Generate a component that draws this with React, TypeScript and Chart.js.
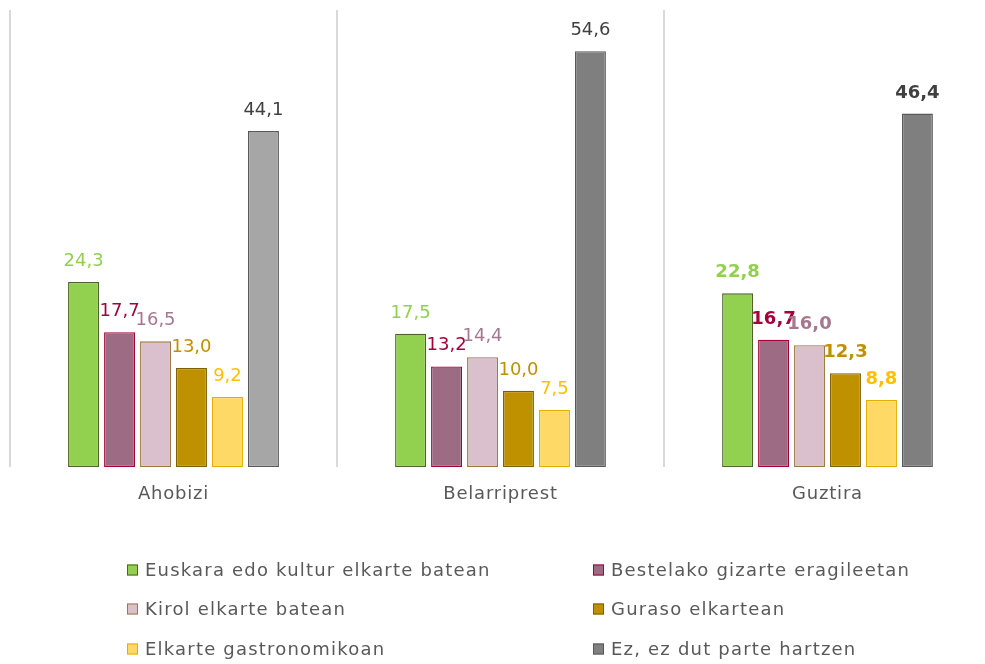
import React, { useEffect, useRef } from "react";
import { Chart, registerables } from "chart.js";

Chart.register(...registerables);

const categories = ["Ahobizi", "Belarriprest", "Guztira"];
const seriesNames = [
  "Euskara edo kultur elkarte batean",
  "Bestelako gizarte eragileetan",
  "Kirol elkarte batean",
  "Guraso elkartean",
  "Elkarte gastronomikoan",
  "Ez, ez dut parte hartzen",
];
const euskara = [24.3, 17.5, 22.8];
const bestelako = [17.7, 13.2, 16.7];
const kirol = [16.5, 14.4, 16.0];
const guraso = [13.0, 10.0, 12.3];
const gastro = [9.2, 7.5, 8.8];
const ez = [44.1, 54.6, 46.4];
const boldCategory = [false, false, true];

const fills = ["#92d050", "#9e6b84", "#d9c0cc", "#bf9000", "#ffd966", "#808080"];
const lastFills = ["#a6a6a6", "#7f7f7f", "#7f7f7f"];
const borders = ["#4f6228", "#a50034", "#9c7a3c", "#7f6000", "#e6ac00", "#595959"];
const labelColors = ["#92d050", "#a5003a", "#a57890", "#bf9000", "#ffc000", "#404040"];

const FONT = '"DejaVu Sans", sans-serif';

const fmt = (v: number) => v.toFixed(1).replace(".", ",");

const spacing = {
  id: "spacing",
  beforeDraw(chart: any) {
    chart.ctx.letterSpacing = "0.8px";
  },
  beforeDatasetsDraw(chart: any) {
    chart.ctx.letterSpacing = "0px";
  },
};

const valueLabels = {
  id: "valueLabels",
  afterDatasetsDraw(chart: any) {
    const ctx = chart.ctx;
    ctx.save();
    ctx.letterSpacing = "0px";
    ctx.textAlign = "center";
    ctx.textBaseline = "alphabetic";
    chart.data.datasets.forEach((ds: any, i: number) => {
      const meta = chart.getDatasetMeta(i);
      meta.data.forEach((bar: any, j: number) => {
        ctx.font = `${boldCategory[j] ? "bold " : ""}18px ${FONT}`;
        ctx.fillStyle = labelColors[i];
        ctx.fillText(fmt(ds.data[j]), bar.x, bar.y - 16);
      });
    });
    ctx.restore();
  },
};

const customLegend = {
  id: "customLegend",
  afterDraw(chart: any) {
    const ctx = chart.ctx;
    ctx.save();
    const cols = [127, 593];
    const rows = [570, 609, 649];
    const box = 11;
    ctx.font = `18px ${FONT}`;
    ctx.letterSpacing = "1.2px";
    ctx.textBaseline = "middle";
    ctx.textAlign = "left";
    seriesNames.forEach((name, i) => {
      const x = cols[i % 2];
      const y = rows[Math.floor(i / 2)];
      ctx.fillStyle = fills[i];
      ctx.fillRect(x, y - box / 2, box, box);
      ctx.strokeStyle = borders[i];
      ctx.lineWidth = 1;
      ctx.strokeRect(x + 0.5, y - box / 2 + 0.5, box - 1, box - 1);
      ctx.fillStyle = "#595959";
      ctx.fillText(name, x + 18, y + 1);
    });
    ctx.restore();
  },
};

export default function App() {
  const ref = useRef<HTMLCanvasElement>(null);
  useEffect(() => {
    if (!ref.current) return;
    const values = [euskara, bestelako, kirol, guraso, gastro, ez];
    const chart = new Chart(ref.current, {
      type: "bar",
      data: {
        labels: categories,
        datasets: values.map((d, i) => ({
          label: seriesNames[i],
          data: d,
          backgroundColor: i === 5 ? lastFills : fills[i],
          borderColor: borders[i],
          borderWidth: 1.3,
          borderSkipped: false,
          categoryPercentage: 0.66,
          barPercentage: 0.86,
        })),
      },
      options: {
        responsive: false,
        animation: false,
        layout: { padding: { left: 10, top: 10, right: 9, bottom: 0 } },
        plugins: {
          legend: { display: false },
          tooltip: { enabled: false },
        },
        scales: {
          x: {
            grid: { color: "#d9d9d9", lineWidth: 2, drawTicks: false, offset: true },
            border: { display: false },
            ticks: { color: "#595959", font: { family: FONT, size: 18 }, padding: 17 },
            afterFit: (scale: any) => {
              scale.height = 197;
            },
          },
          y: { display: false, min: 0, max: 60 },
        },
      },
      plugins: [spacing, valueLabels, customLegend],
    });
    return () => chart.destroy();
  }, []);
  return (
    <div style={{ position: "absolute", left: 0, top: 0, width: 985, height: 664, overflow: "hidden", background: "#fff" }}>
      <canvas ref={ref} width={1000} height={664} />
    </div>
  );
}
